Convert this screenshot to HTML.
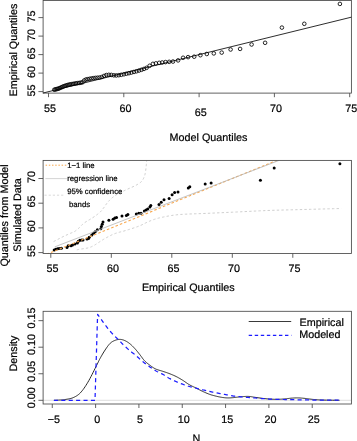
<!DOCTYPE html>
<html><head><meta charset="utf-8"><title>QQ plots</title>
<style>
html,body{margin:0;padding:0;background:#fff;}
body{width:357px;height:441px;overflow:hidden;}
svg{display:block;font-family:"Liberation Sans",sans-serif;}
text{text-rendering:geometricPrecision;}
g.t{opacity:0.999;}
</style></head><body>
<svg width="357" height="441" viewBox="0 0 357 441">
<rect width="357" height="441" fill="#fff"/>
<rect x="43.1" y="0.5" width="308.30" height="92.60" fill="none" stroke="#484848" stroke-width="0.85"/>
<line x1="38.40" y1="91.60" x2="43.10" y2="91.60" stroke="#484848" stroke-width="0.85" />
<line x1="38.40" y1="73.10" x2="43.10" y2="73.10" stroke="#484848" stroke-width="0.85" />
<line x1="38.40" y1="54.60" x2="43.10" y2="54.60" stroke="#484848" stroke-width="0.85" />
<line x1="38.40" y1="36.10" x2="43.10" y2="36.10" stroke="#484848" stroke-width="0.85" />
<line x1="38.40" y1="17.60" x2="43.10" y2="17.60" stroke="#484848" stroke-width="0.85" />
<line x1="48.50" y1="93.10" x2="48.50" y2="97.20" stroke="#484848" stroke-width="0.85" />
<line x1="123.80" y1="93.10" x2="123.80" y2="97.20" stroke="#484848" stroke-width="0.85" />
<line x1="199.10" y1="93.10" x2="199.10" y2="97.20" stroke="#484848" stroke-width="0.85" />
<line x1="274.40" y1="93.10" x2="274.40" y2="97.20" stroke="#484848" stroke-width="0.85" />
<line x1="349.70" y1="93.10" x2="349.70" y2="97.20" stroke="#484848" stroke-width="0.85" />
<line x1="43.10" y1="93.00" x2="351.40" y2="17.16" stroke="#222" stroke-width="0.95" />
<circle cx="339.90" cy="3.90" r="1.8" fill="none" stroke="#000" stroke-width="0.85"/>
<circle cx="304.30" cy="23.80" r="1.8" fill="none" stroke="#000" stroke-width="0.85"/>
<circle cx="281.90" cy="27.60" r="1.8" fill="none" stroke="#000" stroke-width="0.85"/>
<circle cx="265.10" cy="42.80" r="1.8" fill="none" stroke="#000" stroke-width="0.85"/>
<circle cx="251.60" cy="44.50" r="1.8" fill="none" stroke="#000" stroke-width="0.85"/>
<circle cx="240.10" cy="48.90" r="1.8" fill="none" stroke="#000" stroke-width="0.85"/>
<circle cx="230.60" cy="49.50" r="1.8" fill="none" stroke="#000" stroke-width="0.85"/>
<circle cx="221.70" cy="52.60" r="1.8" fill="none" stroke="#000" stroke-width="0.85"/>
<circle cx="213.80" cy="53.40" r="1.8" fill="none" stroke="#000" stroke-width="0.85"/>
<circle cx="206.80" cy="54.00" r="1.8" fill="none" stroke="#000" stroke-width="0.85"/>
<circle cx="200.40" cy="55.20" r="1.8" fill="none" stroke="#000" stroke-width="0.85"/>
<circle cx="194.20" cy="56.70" r="1.8" fill="none" stroke="#000" stroke-width="0.85"/>
<circle cx="188.10" cy="57.13" r="1.8" fill="none" stroke="#000" stroke-width="0.85"/>
<circle cx="183.10" cy="57.76" r="1.8" fill="none" stroke="#000" stroke-width="0.85"/>
<circle cx="178.10" cy="60.39" r="1.8" fill="none" stroke="#000" stroke-width="0.85"/>
<circle cx="173.00" cy="61.55" r="1.8" fill="none" stroke="#000" stroke-width="0.85"/>
<circle cx="169.20" cy="61.82" r="1.8" fill="none" stroke="#000" stroke-width="0.85"/>
<circle cx="165.50" cy="62.09" r="1.8" fill="none" stroke="#000" stroke-width="0.85"/>
<circle cx="162.20" cy="62.48" r="1.8" fill="none" stroke="#000" stroke-width="0.85"/>
<circle cx="159.20" cy="62.84" r="1.8" fill="none" stroke="#000" stroke-width="0.85"/>
<circle cx="155.90" cy="63.35" r="1.8" fill="none" stroke="#000" stroke-width="0.85"/>
<circle cx="152.90" cy="63.84" r="1.8" fill="none" stroke="#000" stroke-width="0.85"/>
<circle cx="149.60" cy="65.79" r="1.8" fill="none" stroke="#000" stroke-width="0.85"/>
<circle cx="146.60" cy="67.82" r="1.8" fill="none" stroke="#000" stroke-width="0.85"/>
<circle cx="144.00" cy="68.92" r="1.8" fill="none" stroke="#000" stroke-width="0.85"/>
<circle cx="141.50" cy="69.78" r="1.8" fill="none" stroke="#000" stroke-width="0.85"/>
<circle cx="139.00" cy="70.56" r="1.8" fill="none" stroke="#000" stroke-width="0.85"/>
<circle cx="136.50" cy="71.28" r="1.8" fill="none" stroke="#000" stroke-width="0.85"/>
<circle cx="134.00" cy="71.94" r="1.8" fill="none" stroke="#000" stroke-width="0.85"/>
<circle cx="131.40" cy="72.58" r="1.8" fill="none" stroke="#000" stroke-width="0.85"/>
<circle cx="128.90" cy="73.17" r="1.8" fill="none" stroke="#000" stroke-width="0.85"/>
<circle cx="126.40" cy="73.73" r="1.8" fill="none" stroke="#000" stroke-width="0.85"/>
<circle cx="123.90" cy="74.27" r="1.8" fill="none" stroke="#000" stroke-width="0.85"/>
<circle cx="121.30" cy="74.81" r="1.8" fill="none" stroke="#000" stroke-width="0.85"/>
<circle cx="118.80" cy="75.18" r="1.8" fill="none" stroke="#000" stroke-width="0.85"/>
<circle cx="116.30" cy="75.45" r="1.8" fill="none" stroke="#000" stroke-width="0.85"/>
<circle cx="113.80" cy="75.33" r="1.8" fill="none" stroke="#000" stroke-width="0.85"/>
<circle cx="111.30" cy="74.92" r="1.8" fill="none" stroke="#000" stroke-width="0.85"/>
<circle cx="108.80" cy="74.83" r="1.8" fill="none" stroke="#000" stroke-width="0.85"/>
<circle cx="106.38" cy="75.04" r="1.8" fill="none" stroke="#000" stroke-width="0.85"/>
<circle cx="104.04" cy="75.91" r="1.8" fill="none" stroke="#000" stroke-width="0.85"/>
<circle cx="101.78" cy="77.01" r="1.8" fill="none" stroke="#000" stroke-width="0.85"/>
<circle cx="99.58" cy="77.54" r="1.8" fill="none" stroke="#000" stroke-width="0.85"/>
<circle cx="97.46" cy="77.72" r="1.8" fill="none" stroke="#000" stroke-width="0.85"/>
<circle cx="95.39" cy="77.90" r="1.8" fill="none" stroke="#000" stroke-width="0.85"/>
<circle cx="93.38" cy="78.18" r="1.8" fill="none" stroke="#000" stroke-width="0.85"/>
<circle cx="91.43" cy="78.48" r="1.8" fill="none" stroke="#000" stroke-width="0.85"/>
<circle cx="89.54" cy="78.82" r="1.8" fill="none" stroke="#000" stroke-width="0.85"/>
<circle cx="87.69" cy="79.18" r="1.8" fill="none" stroke="#000" stroke-width="0.85"/>
<circle cx="85.89" cy="79.53" r="1.8" fill="none" stroke="#000" stroke-width="0.85"/>
<circle cx="84.14" cy="80.51" r="1.8" fill="none" stroke="#000" stroke-width="0.85"/>
<circle cx="82.44" cy="82.31" r="1.8" fill="none" stroke="#000" stroke-width="0.85"/>
<circle cx="80.78" cy="82.69" r="1.8" fill="none" stroke="#000" stroke-width="0.85"/>
<circle cx="79.15" cy="82.93" r="1.8" fill="none" stroke="#000" stroke-width="0.85"/>
<circle cx="77.57" cy="83.16" r="1.8" fill="none" stroke="#000" stroke-width="0.85"/>
<circle cx="76.03" cy="83.39" r="1.8" fill="none" stroke="#000" stroke-width="0.85"/>
<circle cx="74.51" cy="83.65" r="1.8" fill="none" stroke="#000" stroke-width="0.85"/>
<circle cx="73.04" cy="83.91" r="1.8" fill="none" stroke="#000" stroke-width="0.85"/>
<circle cx="71.60" cy="84.17" r="1.8" fill="none" stroke="#000" stroke-width="0.85"/>
<circle cx="70.19" cy="84.43" r="1.8" fill="none" stroke="#000" stroke-width="0.85"/>
<circle cx="68.80" cy="84.68" r="1.8" fill="none" stroke="#000" stroke-width="0.85"/>
<circle cx="67.45" cy="85.10" r="1.8" fill="none" stroke="#000" stroke-width="0.85"/>
<circle cx="66.13" cy="85.50" r="1.8" fill="none" stroke="#000" stroke-width="0.85"/>
<circle cx="64.83" cy="85.89" r="1.8" fill="none" stroke="#000" stroke-width="0.85"/>
<circle cx="63.57" cy="86.32" r="1.8" fill="none" stroke="#000" stroke-width="0.85"/>
<circle cx="62.32" cy="86.90" r="1.8" fill="none" stroke="#000" stroke-width="0.85"/>
<circle cx="61.10" cy="87.47" r="1.8" fill="none" stroke="#000" stroke-width="0.85"/>
<circle cx="59.91" cy="88.02" r="1.8" fill="none" stroke="#000" stroke-width="0.85"/>
<circle cx="58.73" cy="88.56" r="1.8" fill="none" stroke="#000" stroke-width="0.85"/>
<circle cx="57.58" cy="88.86" r="1.8" fill="none" stroke="#000" stroke-width="0.85"/>
<circle cx="56.45" cy="89.16" r="1.8" fill="none" stroke="#000" stroke-width="0.85"/>
<circle cx="55.34" cy="89.45" r="1.8" fill="none" stroke="#000" stroke-width="0.85"/>
<circle cx="54.25" cy="89.74" r="1.8" fill="none" stroke="#000" stroke-width="0.85"/>
<clipPath id="c2"><rect x="43.1" y="160.4" width="308.30" height="93.10"/></clipPath>
<g clip-path="url(#c2)">
<circle cx="54.20" cy="249.90" r="1.5" fill="#000"/>
<circle cx="55.80" cy="249.30" r="1.5" fill="#000"/>
<circle cx="57.50" cy="248.80" r="1.5" fill="#000"/>
<circle cx="59.20" cy="248.50" r="1.5" fill="#000"/>
<circle cx="61.40" cy="248.30" r="1.5" fill="#000"/>
<circle cx="67.00" cy="247.40" r="1.5" fill="#000"/>
<circle cx="68.20" cy="245.70" r="1.5" fill="#000"/>
<circle cx="71.00" cy="245.70" r="1.5" fill="#000"/>
<circle cx="72.50" cy="245.00" r="1.5" fill="#000"/>
<circle cx="74.90" cy="244.00" r="1.5" fill="#000"/>
<circle cx="77.40" cy="242.90" r="1.5" fill="#000"/>
<circle cx="78.30" cy="241.20" r="1.5" fill="#000"/>
<circle cx="79.90" cy="240.30" r="1.5" fill="#000"/>
<circle cx="81.60" cy="240.10" r="1.5" fill="#000"/>
<circle cx="83.00" cy="239.90" r="1.5" fill="#000"/>
<circle cx="87.00" cy="238.90" r="1.5" fill="#000"/>
<circle cx="88.50" cy="238.60" r="1.5" fill="#000"/>
<circle cx="89.20" cy="237.20" r="1.5" fill="#000"/>
<circle cx="91.80" cy="234.90" r="1.5" fill="#000"/>
<circle cx="93.50" cy="233.20" r="1.5" fill="#000"/>
<circle cx="95.20" cy="231.80" r="1.5" fill="#000"/>
<circle cx="97.40" cy="229.80" r="1.5" fill="#000"/>
<circle cx="100.80" cy="228.70" r="1.5" fill="#000"/>
<circle cx="101.40" cy="226.50" r="1.5" fill="#000"/>
<circle cx="102.20" cy="224.20" r="1.5" fill="#000"/>
<circle cx="103.00" cy="222.00" r="1.5" fill="#000"/>
<circle cx="108.90" cy="220.30" r="1.5" fill="#000"/>
<circle cx="113.10" cy="219.20" r="1.5" fill="#000"/>
<circle cx="114.80" cy="218.10" r="1.5" fill="#000"/>
<circle cx="116.50" cy="217.50" r="1.5" fill="#000"/>
<circle cx="122.00" cy="216.10" r="1.5" fill="#000"/>
<circle cx="126.40" cy="215.60" r="1.5" fill="#000"/>
<circle cx="127.90" cy="214.50" r="1.5" fill="#000"/>
<circle cx="136.30" cy="214.10" r="1.5" fill="#000"/>
<circle cx="138.80" cy="213.30" r="1.5" fill="#000"/>
<circle cx="141.00" cy="213.30" r="1.5" fill="#000"/>
<circle cx="144.40" cy="211.10" r="1.5" fill="#000"/>
<circle cx="146.10" cy="209.90" r="1.5" fill="#000"/>
<circle cx="147.70" cy="208.90" r="1.5" fill="#000"/>
<circle cx="149.90" cy="206.90" r="1.5" fill="#000"/>
<circle cx="150.80" cy="205.50" r="1.5" fill="#000"/>
<circle cx="159.00" cy="204.40" r="1.5" fill="#000"/>
<circle cx="161.20" cy="202.20" r="1.5" fill="#000"/>
<circle cx="164.00" cy="199.80" r="1.5" fill="#000"/>
<circle cx="169.10" cy="198.50" r="1.5" fill="#000"/>
<circle cx="172.10" cy="194.80" r="1.5" fill="#000"/>
<circle cx="174.60" cy="192.60" r="1.5" fill="#000"/>
<circle cx="178.00" cy="192.10" r="1.5" fill="#000"/>
<circle cx="188.30" cy="187.90" r="1.5" fill="#000"/>
<circle cx="189.80" cy="186.70" r="1.5" fill="#000"/>
<circle cx="205.20" cy="183.90" r="1.5" fill="#000"/>
<circle cx="211.10" cy="183.00" r="1.5" fill="#000"/>
<circle cx="260.40" cy="180.20" r="1.5" fill="#000"/>
<circle cx="274.20" cy="167.90" r="1.5" fill="#000"/>
<circle cx="339.90" cy="163.80" r="1.5" fill="#000"/>
<path d="M53.60,241.60 L54.36,241.20 L55.39,240.66 L56.62,240.01 L57.98,239.29 L59.38,238.56 L60.77,237.83 L62.07,237.17 L63.20,236.60 L64.20,236.12 L65.14,235.67 L66.04,235.26 L66.89,234.88 L67.71,234.51 L68.50,234.17 L69.26,233.83 L70.00,233.50 L70.71,233.19 L71.37,232.92 L71.99,232.68 L72.59,232.44 L73.17,232.20 L73.74,231.94 L74.31,231.65 L74.90,231.30 L75.49,230.91 L76.07,230.48 L76.65,230.02 L77.23,229.54 L77.80,229.04 L78.36,228.53 L78.93,228.01 L79.50,227.50 L80.04,226.99 L80.53,226.47 L81.00,225.95 L81.47,225.41 L81.99,224.86 L82.56,224.30 L83.22,223.71 L84.00,223.10 L84.93,222.45 L85.99,221.77 L87.15,221.06 L88.36,220.34 L89.60,219.61 L90.81,218.89 L91.95,218.18 L93.00,217.50 L93.97,216.84 L94.90,216.20 L95.80,215.56 L96.67,214.93 L97.49,214.31 L98.28,213.70 L99.01,213.10 L99.70,212.50 L100.32,211.93 L100.85,211.39 L101.33,210.86 L101.77,210.34 L102.19,209.81 L102.63,209.25 L103.09,208.65 L103.60,208.00 L104.14,207.28 L104.69,206.50 L105.25,205.69 L105.82,204.84 L106.41,203.99 L107.04,203.14 L107.70,202.30 L108.40,201.50 L109.13,200.72 L109.88,199.95 L110.66,199.18 L111.47,198.42 L112.32,197.68 L113.22,196.94 L114.18,196.21 L115.20,195.50 L116.31,194.80 L117.50,194.11 L118.75,193.43 L120.05,192.76 L121.37,192.11 L122.70,191.46 L124.02,190.82 L125.30,190.20 L126.58,189.59 L127.90,188.99 L129.22,188.40 L130.54,187.82 L131.83,187.26 L133.07,186.70 L134.23,186.15 L135.30,185.60 L136.28,185.08 L137.19,184.59 L138.04,184.11 L138.83,183.64 L139.56,183.16 L140.25,182.65 L140.89,182.10 L141.50,181.50 L142.06,180.84 L142.56,180.15 L143.00,179.42 L143.41,178.66 L143.77,177.87 L144.10,177.06 L144.41,176.24 L144.70,175.40 L144.96,174.55 L145.17,173.68 L145.35,172.79 L145.50,171.88 L145.63,170.95 L145.75,169.99 L145.87,169.01 L146.00,168.00 L146.13,166.89 L146.25,165.65 L146.37,164.35 L146.48,163.04 L146.58,161.79 L146.67,160.65 L146.74,159.71 L146.80,159.00" fill="none" stroke="#c6c6c6" stroke-width="0.85" stroke-linejoin="round" stroke-dasharray="2.4 2.2"/>
<path d="M76.80,249.80 L77.01,249.76 L77.26,249.71 L77.55,249.65 L77.90,249.58 L78.31,249.50 L78.79,249.41 L79.35,249.31 L80.00,249.20 L80.79,249.08 L81.73,248.94 L82.78,248.79 L83.89,248.63 L85.01,248.46 L86.10,248.28 L87.11,248.10 L88.00,247.90 L88.77,247.70 L89.47,247.49 L90.12,247.27 L90.73,247.04 L91.30,246.80 L91.86,246.55 L92.42,246.28 L93.00,246.00 L93.58,245.70 L94.14,245.39 L94.69,245.06 L95.22,244.72 L95.76,244.37 L96.30,244.01 L96.84,243.66 L97.40,243.30 L97.97,242.94 L98.54,242.56 L99.12,242.18 L99.70,241.79 L100.28,241.41 L100.86,241.03 L101.43,240.66 L102.00,240.30 L102.54,239.96 L103.06,239.64 L103.56,239.33 L104.07,239.03 L104.59,238.72 L105.14,238.40 L105.74,238.06 L106.40,237.70 L107.13,237.30 L107.93,236.87 L108.78,236.42 L109.66,235.96 L110.55,235.51 L111.43,235.07 L112.29,234.66 L113.10,234.30 L113.88,233.98 L114.65,233.69 L115.41,233.42 L116.16,233.17 L116.89,232.94 L117.61,232.72 L118.31,232.51 L119.00,232.30 L119.64,232.11 L120.22,231.96 L120.77,231.83 L121.31,231.70 L121.87,231.57 L122.49,231.41 L123.19,231.23 L124.00,231.00 L124.95,230.72 L126.01,230.40 L127.16,230.05 L128.36,229.68 L129.58,229.30 L130.78,228.92 L131.93,228.55 L133.00,228.20 L133.99,227.87 L134.94,227.55 L135.85,227.24 L136.74,226.93 L137.61,226.62 L138.47,226.29 L139.33,225.96 L140.20,225.60 L141.07,225.22 L141.93,224.81 L142.79,224.39 L143.64,223.96 L144.48,223.52 L145.32,223.10 L146.16,222.69 L147.00,222.30 L147.82,221.93 L148.62,221.57 L149.41,221.23 L150.20,220.89 L151.00,220.56 L151.83,220.23 L152.69,219.91 L153.60,219.60 L154.53,219.29 L155.47,219.00 L156.42,218.71 L157.40,218.42 L158.43,218.14 L159.53,217.87 L160.72,217.58 L162.00,217.30 L163.41,217.00 L164.95,216.69 L166.57,216.38 L168.26,216.06 L169.98,215.76 L171.70,215.48 L173.38,215.22 L175.00,215.00 L176.52,214.82 L177.96,214.67 L179.35,214.55 L180.75,214.45 L182.19,214.36 L183.72,214.28 L185.37,214.19 L187.20,214.10 L189.14,214.01 L191.11,213.93 L193.17,213.85 L195.34,213.78 L197.65,213.70 L200.14,213.62 L202.85,213.52 L205.80,213.40 L209.07,213.26 L212.64,213.10 L216.46,212.93 L220.44,212.75 L224.51,212.56 L228.61,212.37 L232.67,212.18 L236.60,212.00 L240.44,211.81 L244.26,211.62 L248.07,211.42 L251.89,211.22 L255.72,211.02 L259.57,210.84 L263.46,210.66 L267.40,210.50 L271.33,210.36 L275.22,210.24 L279.12,210.13 L283.05,210.02 L287.07,209.93 L291.20,209.82 L295.50,209.72 L300.00,209.60 L305.02,209.46 L310.66,209.31 L316.63,209.15 L322.64,208.99 L328.39,208.84 L333.60,208.70 L337.96,208.59 L341.20,208.50" fill="none" stroke="#c6c6c6" stroke-width="0.85" stroke-linejoin="round" stroke-dasharray="2.4 2.2"/>
<line x1="42.33" y1="256.06" x2="280.70" y2="158.74" stroke="#f9a950" stroke-width="1.1" stroke-dasharray="2.6 2.05"/>
<line x1="54.70" y1="246.90" x2="279.10" y2="160.40" stroke="#b6b6b6" stroke-width="0.8" />
</g>
<rect x="43.1" y="160.4" width="308.30" height="93.10" fill="none" stroke="#484848" stroke-width="0.85"/>
<line x1="38.40" y1="252.60" x2="43.10" y2="252.60" stroke="#484848" stroke-width="0.85" />
<line x1="38.40" y1="227.90" x2="43.10" y2="227.90" stroke="#484848" stroke-width="0.85" />
<line x1="38.40" y1="203.20" x2="43.10" y2="203.20" stroke="#484848" stroke-width="0.85" />
<line x1="38.40" y1="178.50" x2="43.10" y2="178.50" stroke="#484848" stroke-width="0.85" />
<line x1="50.80" y1="253.50" x2="50.80" y2="257.80" stroke="#484848" stroke-width="0.85" />
<line x1="111.30" y1="253.50" x2="111.30" y2="257.80" stroke="#484848" stroke-width="0.85" />
<line x1="171.80" y1="253.50" x2="171.80" y2="257.80" stroke="#484848" stroke-width="0.85" />
<line x1="232.30" y1="253.50" x2="232.30" y2="257.80" stroke="#484848" stroke-width="0.85" />
<line x1="292.80" y1="253.50" x2="292.80" y2="257.80" stroke="#484848" stroke-width="0.85" />
<line x1="45.60" y1="165.20" x2="66.80" y2="165.20" stroke="#f9a84d" stroke-width="1.0" stroke-dasharray="1.5 1.7"/>
<line x1="45.40" y1="178.60" x2="66.80" y2="178.60" stroke="#c6c6c6" stroke-width="0.75" />
<line x1="44.50" y1="195.20" x2="64.20" y2="195.20" stroke="#cfcfcf" stroke-width="0.8" stroke-dasharray="2.2 1.95"/>
<clipPath id="c3"><rect x="43.1" y="311.3" width="308.30" height="92.70"/></clipPath>
<g clip-path="url(#c3)">
<line x1="43.10" y1="400.30" x2="351.40" y2="400.30" stroke="#cfcfcf" stroke-width="0.7" />
<path d="M53.90,400.30 L54.38,400.28 L55.02,400.25 L55.78,400.22 L56.62,400.18 L57.51,400.14 L58.40,400.10 L59.24,400.05 L60.00,400.00 L60.68,399.96 L61.31,399.92 L61.91,399.88 L62.51,399.84 L63.11,399.78 L63.75,399.71 L64.44,399.62 L65.20,399.50 L66.04,399.37 L66.93,399.23 L67.88,399.09 L68.86,398.93 L69.85,398.72 L70.85,398.48 L71.84,398.17 L72.80,397.80 L73.74,397.38 L74.68,396.94 L75.62,396.45 L76.55,395.91 L77.48,395.30 L78.42,394.61 L79.36,393.81 L80.30,392.90 L81.24,391.87 L82.18,390.74 L83.13,389.52 L84.07,388.21 L85.02,386.81 L85.97,385.34 L86.93,383.80 L87.90,382.20 L88.91,380.45 L89.96,378.52 L91.04,376.46 L92.11,374.36 L93.16,372.27 L94.16,370.27 L95.08,368.42 L95.90,366.80 L96.60,365.42 L97.20,364.21 L97.72,363.14 L98.19,362.16 L98.63,361.24 L99.08,360.34 L99.56,359.40 L100.10,358.40 L100.69,357.34 L101.29,356.26 L101.91,355.18 L102.54,354.09 L103.18,353.03 L103.82,351.98 L104.46,350.97 L105.10,350.00 L105.73,349.06 L106.37,348.12 L107.01,347.20 L107.65,346.31 L108.29,345.47 L108.93,344.68 L109.57,343.95 L110.20,343.30 L110.83,342.73 L111.45,342.24 L112.08,341.81 L112.70,341.44 L113.32,341.11 L113.95,340.82 L114.57,340.55 L115.20,340.30 L115.83,340.07 L116.47,339.87 L117.11,339.71 L117.75,339.57 L118.39,339.48 L119.03,339.41 L119.67,339.39 L120.30,339.40 L120.93,339.45 L121.56,339.54 L122.18,339.67 L122.81,339.84 L123.43,340.03 L124.05,340.26 L124.68,340.52 L125.30,340.80 L125.92,341.11 L126.55,341.45 L127.17,341.82 L127.79,342.22 L128.42,342.65 L129.04,343.10 L129.67,343.59 L130.30,344.10 L130.93,344.65 L131.57,345.23 L132.22,345.85 L132.86,346.49 L133.51,347.15 L134.14,347.83 L134.78,348.51 L135.40,349.20 L136.02,349.90 L136.63,350.63 L137.24,351.37 L137.85,352.12 L138.45,352.87 L139.04,353.63 L139.63,354.37 L140.20,355.10 L140.75,355.82 L141.28,356.54 L141.79,357.26 L142.30,357.98 L142.81,358.68 L143.35,359.37 L143.90,360.05 L144.50,360.70 L145.14,361.34 L145.81,361.96 L146.50,362.58 L147.22,363.18 L147.94,363.76 L148.67,364.32 L149.39,364.87 L150.10,365.40 L150.79,365.91 L151.47,366.41 L152.15,366.89 L152.83,367.36 L153.52,367.80 L154.22,368.22 L154.95,368.62 L155.70,369.00 L156.48,369.34 L157.30,369.65 L158.13,369.92 L158.98,370.18 L159.84,370.43 L160.70,370.68 L161.55,370.93 L162.40,371.20 L163.24,371.48 L164.07,371.75 L164.91,372.03 L165.74,372.31 L166.58,372.59 L167.42,372.88 L168.26,373.18 L169.10,373.50 L169.95,373.83 L170.80,374.16 L171.65,374.50 L172.50,374.86 L173.35,375.22 L174.20,375.60 L175.05,375.99 L175.90,376.40 L176.74,376.83 L177.58,377.27 L178.42,377.73 L179.26,378.20 L180.09,378.68 L180.93,379.18 L181.76,379.69 L182.60,380.20 L183.44,380.74 L184.28,381.30 L185.11,381.89 L185.95,382.48 L186.79,383.07 L187.62,383.64 L188.46,384.19 L189.30,384.70 L190.14,385.17 L190.98,385.61 L191.81,386.02 L192.65,386.42 L193.49,386.81 L194.33,387.20 L195.16,387.59 L196.00,388.00 L196.84,388.42 L197.67,388.85 L198.51,389.29 L199.34,389.73 L200.18,390.16 L201.02,390.58 L201.86,391.00 L202.70,391.40 L203.55,391.80 L204.42,392.19 L205.30,392.58 L206.17,392.96 L207.04,393.33 L207.89,393.68 L208.71,394.00 L209.50,394.30 L210.25,394.56 L210.96,394.80 L211.64,395.01 L212.31,395.20 L212.97,395.38 L213.63,395.55 L214.30,395.72 L215.00,395.90 L215.72,396.08 L216.45,396.26 L217.18,396.44 L217.92,396.61 L218.67,396.77 L219.42,396.92 L220.16,397.07 L220.90,397.20 L221.64,397.32 L222.38,397.44 L223.12,397.55 L223.86,397.64 L224.59,397.73 L225.33,397.80 L226.07,397.86 L226.80,397.90 L227.52,397.92 L228.21,397.93 L228.89,397.92 L229.58,397.90 L230.28,397.87 L231.00,397.82 L231.78,397.76 L232.60,397.70 L233.49,397.62 L234.43,397.51 L235.41,397.39 L236.42,397.26 L237.45,397.13 L238.48,397.01 L239.50,396.89 L240.50,396.80 L241.49,396.72 L242.50,396.64 L243.52,396.56 L244.53,396.49 L245.52,396.44 L246.49,396.40 L247.42,396.39 L248.30,396.40 L249.12,396.44 L249.86,396.51 L250.57,396.60 L251.25,396.71 L251.93,396.83 L252.64,396.95 L253.38,397.08 L254.20,397.20 L255.08,397.33 L256.01,397.46 L256.98,397.60 L257.97,397.75 L258.98,397.90 L260.00,398.04 L261.01,398.17 L262.00,398.30 L262.98,398.42 L263.97,398.54 L264.96,398.65 L265.95,398.76 L266.94,398.86 L267.93,398.95 L268.92,399.03 L269.90,399.10 L270.88,399.16 L271.87,399.21 L272.85,399.25 L273.84,399.28 L274.82,399.30 L275.79,399.31 L276.75,399.31 L277.70,399.30 L278.65,399.28 L279.59,399.25 L280.53,399.21 L281.46,399.16 L282.38,399.10 L283.28,399.04 L284.15,398.97 L285.00,398.90 L285.81,398.82 L286.58,398.74 L287.32,398.64 L288.05,398.54 L288.77,398.45 L289.50,398.35 L290.23,398.27 L291.00,398.20 L291.79,398.14 L292.59,398.08 L293.40,398.03 L294.22,397.98 L295.04,397.94 L295.86,397.92 L296.68,397.90 L297.50,397.90 L298.31,397.91 L299.11,397.94 L299.92,397.98 L300.72,398.02 L301.53,398.08 L302.34,398.15 L303.16,398.22 L304.00,398.30 L304.85,398.39 L305.72,398.50 L306.60,398.61 L307.49,398.74 L308.38,398.86 L309.26,398.98 L310.14,399.10 L311.00,399.20 L311.85,399.29 L312.68,399.38 L313.51,399.46 L314.33,399.54 L315.16,399.61 L315.99,399.68 L316.84,399.74 L317.70,399.80 L318.53,399.85 L319.31,399.90 L320.08,399.94 L320.86,399.98 L321.71,400.01 L322.65,400.04 L323.74,400.07 L325.00,400.10 L326.57,400.13 L328.46,400.16 L330.55,400.19 L332.71,400.22 L334.81,400.24 L336.73,400.27 L338.33,400.29 L339.50,400.30" fill="none" stroke="#2a2a2a" stroke-width="1.0" stroke-linejoin="round" />
<path d="M53.90,400.30 L95.00,400.30 L97.60,314.40 L97.85,314.74 L98.17,315.18 L98.56,315.70 L98.99,316.28 L99.45,316.91 L99.93,317.57 L100.42,318.24 L100.90,318.90 L101.38,319.57 L101.89,320.29 L102.41,321.03 L102.94,321.79 L103.49,322.56 L104.03,323.33 L104.57,324.08 L105.10,324.80 L105.62,325.50 L106.15,326.20 L106.67,326.89 L107.20,327.57 L107.72,328.25 L108.25,328.91 L108.77,329.56 L109.30,330.20 L109.82,330.82 L110.33,331.42 L110.84,332.00 L111.34,332.57 L111.86,333.15 L112.39,333.72 L112.93,334.30 L113.50,334.90 L114.10,335.51 L114.71,336.13 L115.35,336.75 L116.00,337.38 L116.66,338.00 L117.31,338.64 L117.96,339.27 L118.60,339.90 L119.22,340.53 L119.84,341.16 L120.44,341.79 L121.05,342.42 L121.66,343.06 L122.29,343.70 L122.93,344.35 L123.60,345.00 L124.29,345.67 L125.01,346.35 L125.75,347.03 L126.49,347.72 L127.25,348.41 L128.00,349.09 L128.76,349.76 L129.50,350.40 L130.23,351.01 L130.95,351.59 L131.67,352.16 L132.39,352.71 L133.12,353.27 L133.86,353.85 L134.62,354.46 L135.40,355.10 L136.21,355.79 L137.04,356.53 L137.88,357.29 L138.74,358.07 L139.61,358.85 L140.48,359.63 L141.34,360.38 L142.20,361.10 L143.05,361.79 L143.90,362.47 L144.75,363.14 L145.61,363.79 L146.46,364.44 L147.31,365.07 L148.15,365.69 L149.00,366.30 L149.84,366.90 L150.68,367.50 L151.52,368.09 L152.36,368.67 L153.19,369.23 L154.03,369.78 L154.86,370.30 L155.70,370.80 L156.54,371.26 L157.38,371.69 L158.21,372.09 L159.05,372.48 L159.89,372.86 L160.72,373.25 L161.56,373.66 L162.40,374.10 L163.24,374.58 L164.07,375.09 L164.91,375.61 L165.74,376.15 L166.58,376.69 L167.42,377.21 L168.26,377.72 L169.10,378.20 L169.95,378.65 L170.80,379.10 L171.65,379.52 L172.50,379.94 L173.35,380.34 L174.20,380.74 L175.05,381.12 L175.90,381.50 L176.74,381.87 L177.58,382.23 L178.42,382.57 L179.26,382.91 L180.09,383.24 L180.93,383.57 L181.76,383.89 L182.60,384.20 L183.44,384.51 L184.28,384.82 L185.11,385.12 L185.95,385.41 L186.79,385.70 L187.62,385.98 L188.46,386.24 L189.30,386.50 L190.14,386.74 L190.98,386.97 L191.81,387.19 L192.65,387.39 L193.49,387.60 L194.33,387.80 L195.16,388.00 L196.00,388.20 L196.84,388.40 L197.67,388.61 L198.51,388.81 L199.34,389.01 L200.18,389.20 L201.02,389.40 L201.86,389.60 L202.70,389.80 L203.53,390.00 L204.36,390.20 L205.17,390.39 L205.99,390.59 L206.83,390.79 L207.69,390.99 L208.57,391.19 L209.50,391.40 L210.47,391.62 L211.48,391.84 L212.51,392.07 L213.57,392.30 L214.64,392.53 L215.73,392.76 L216.82,392.98 L217.90,393.20 L219.00,393.41 L220.12,393.62 L221.25,393.82 L222.39,394.03 L223.52,394.22 L224.64,394.42 L225.74,394.61 L226.80,394.80 L227.81,394.99 L228.78,395.17 L229.72,395.36 L230.64,395.54 L231.58,395.71 L232.54,395.88 L233.54,396.05 L234.60,396.20 L235.73,396.35 L236.91,396.49 L238.13,396.62 L239.38,396.74 L240.64,396.86 L241.90,396.98 L243.16,397.09 L244.40,397.20 L245.62,397.30 L246.85,397.39 L248.08,397.48 L249.30,397.56 L250.53,397.64 L251.75,397.73 L252.98,397.81 L254.20,397.90 L255.42,398.00 L256.65,398.10 L257.88,398.20 L259.10,398.31 L260.32,398.41 L261.55,398.51 L262.77,398.61 L264.00,398.70 L265.23,398.79 L266.45,398.87 L267.68,398.96 L268.90,399.04 L270.12,399.11 L271.35,399.18 L272.57,399.25 L273.80,399.30 L275.00,399.34 L276.15,399.38 L277.29,399.40 L278.44,399.42 L279.62,399.44 L280.86,399.45 L282.18,399.47 L283.60,399.50 L285.10,399.53 L286.64,399.57 L288.24,399.61 L289.90,399.64 L291.65,399.68 L293.49,399.72 L295.43,399.76 L297.50,399.80 L299.71,399.84 L302.07,399.88 L304.55,399.92 L307.12,399.96 L309.75,400.00 L312.40,400.04 L315.06,400.07 L317.70,400.10 L320.48,400.12 L323.51,400.14 L326.65,400.16 L329.76,400.17 L332.72,400.18 L335.39,400.19 L337.62,400.19 L339.30,400.20" fill="none" stroke="#1c1cff" stroke-width="1.25" stroke-linejoin="round" stroke-dasharray="4.1 3.3"/>
</g>
<rect x="43.1" y="311.3" width="308.30" height="92.70" fill="none" stroke="#484848" stroke-width="0.85"/>
<line x1="38.40" y1="400.30" x2="43.10" y2="400.30" stroke="#484848" stroke-width="0.85" />
<line x1="38.40" y1="373.75" x2="43.10" y2="373.75" stroke="#484848" stroke-width="0.85" />
<line x1="38.40" y1="347.20" x2="43.10" y2="347.20" stroke="#484848" stroke-width="0.85" />
<line x1="38.40" y1="320.65" x2="43.10" y2="320.65" stroke="#484848" stroke-width="0.85" />
<line x1="52.27" y1="404.00" x2="52.27" y2="408.00" stroke="#484848" stroke-width="0.85" />
<line x1="95.60" y1="404.00" x2="95.60" y2="408.00" stroke="#484848" stroke-width="0.85" />
<line x1="138.92" y1="404.00" x2="138.92" y2="408.00" stroke="#484848" stroke-width="0.85" />
<line x1="182.25" y1="404.00" x2="182.25" y2="408.00" stroke="#484848" stroke-width="0.85" />
<line x1="225.57" y1="404.00" x2="225.57" y2="408.00" stroke="#484848" stroke-width="0.85" />
<line x1="268.90" y1="404.00" x2="268.90" y2="408.00" stroke="#484848" stroke-width="0.85" />
<line x1="312.22" y1="404.00" x2="312.22" y2="408.00" stroke="#484848" stroke-width="0.85" />
<line x1="248.70" y1="321.50" x2="291.20" y2="321.50" stroke="#3a3a3a" stroke-width="1.1" />
<line x1="248.70" y1="335.40" x2="291.40" y2="335.40" stroke="#1c1cff" stroke-width="1.2" stroke-dasharray="3.4 2.65"/>
<g class="t">
<text x="35.30" y="90.60" font-size="10.78" text-anchor="middle" fill="#000" transform="rotate(-90 35.30 90.60)" stroke="#000" stroke-width="0.22">55</text>
<text x="35.30" y="72.10" font-size="10.78" text-anchor="middle" fill="#000" transform="rotate(-90 35.30 72.10)" stroke="#000" stroke-width="0.22">60</text>
<text x="35.30" y="53.60" font-size="10.78" text-anchor="middle" fill="#000" transform="rotate(-90 35.30 53.60)" stroke="#000" stroke-width="0.22">65</text>
<text x="35.30" y="35.10" font-size="10.78" text-anchor="middle" fill="#000" transform="rotate(-90 35.30 35.10)" stroke="#000" stroke-width="0.22">70</text>
<text x="35.30" y="16.60" font-size="10.78" text-anchor="middle" fill="#000" transform="rotate(-90 35.30 16.60)" stroke="#000" stroke-width="0.22">75</text>
<text x="16.70" y="50.10" font-size="10.78" text-anchor="middle" fill="#000" transform="rotate(-90 16.70 50.10)" stroke="#000" stroke-width="0.22">Empirical Quantiles</text>
<text x="50.10" y="111.90" font-size="10.78" text-anchor="middle" fill="#000" stroke="#000" stroke-width="0.22">55</text>
<text x="125.40" y="111.90" font-size="10.78" text-anchor="middle" fill="#000" stroke="#000" stroke-width="0.22">60</text>
<text x="200.70" y="115.60" font-size="10.78" text-anchor="middle" fill="#000" stroke="#000" stroke-width="0.22">65</text>
<text x="276.00" y="111.90" font-size="10.78" text-anchor="middle" fill="#000" stroke="#000" stroke-width="0.22">70</text>
<text x="351.30" y="111.90" font-size="10.78" text-anchor="middle" fill="#000" stroke="#000" stroke-width="0.22">75</text>
<text x="208.50" y="141.30" font-size="10.78" text-anchor="middle" fill="#000" stroke="#000" stroke-width="0.22">Model Quantiles</text>
<text x="34.70" y="251.00" font-size="10.78" text-anchor="middle" fill="#000" transform="rotate(-90 34.70 251.00)" stroke="#000" stroke-width="0.22">55</text>
<text x="34.70" y="226.30" font-size="10.78" text-anchor="middle" fill="#000" transform="rotate(-90 34.70 226.30)" stroke="#000" stroke-width="0.22">60</text>
<text x="34.70" y="201.60" font-size="10.78" text-anchor="middle" fill="#000" transform="rotate(-90 34.70 201.60)" stroke="#000" stroke-width="0.22">65</text>
<text x="34.70" y="176.90" font-size="10.78" text-anchor="middle" fill="#000" transform="rotate(-90 34.70 176.90)" stroke="#000" stroke-width="0.22">70</text>
<text x="8.10" y="215.40" font-size="10.78" text-anchor="middle" fill="#000" transform="rotate(-90 8.10 215.40)" stroke="#000" stroke-width="0.22">Quantiles from Model</text>
<text x="21.20" y="215.00" font-size="10.78" text-anchor="middle" fill="#000" transform="rotate(-90 21.20 215.00)" stroke="#000" stroke-width="0.22">Simulated Data</text>
<text x="52.40" y="272.30" font-size="10.78" text-anchor="middle" fill="#000" stroke="#000" stroke-width="0.22">55</text>
<text x="112.90" y="272.30" font-size="10.78" text-anchor="middle" fill="#000" stroke="#000" stroke-width="0.22">60</text>
<text x="173.40" y="272.30" font-size="10.78" text-anchor="middle" fill="#000" stroke="#000" stroke-width="0.22">65</text>
<text x="233.90" y="272.30" font-size="10.78" text-anchor="middle" fill="#000" stroke="#000" stroke-width="0.22">70</text>
<text x="294.40" y="272.30" font-size="10.78" text-anchor="middle" fill="#000" stroke="#000" stroke-width="0.22">75</text>
<text x="188.30" y="290.90" font-size="10.78" text-anchor="middle" fill="#000" stroke="#000" stroke-width="0.22">Empirical Quantiles</text>
<text x="67.20" y="168.00" font-size="7.75" text-anchor="start" fill="#000" stroke="#000" stroke-width="0.22">1−1 line</text>
<text x="67.20" y="180.90" font-size="7.75" text-anchor="start" fill="#000" stroke="#000" stroke-width="0.22">regression line</text>
<text x="67.20" y="193.80" font-size="7.75" text-anchor="start" fill="#000" stroke="#000" stroke-width="0.22">95% confidence</text>
<text x="69.00" y="206.70" font-size="7.75" text-anchor="start" fill="#000" stroke="#000" stroke-width="0.22">bands</text>
<text x="34.70" y="397.70" font-size="10.78" text-anchor="middle" fill="#000" transform="rotate(-90 34.70 397.70)" stroke="#000" stroke-width="0.22">0.00</text>
<text x="34.70" y="371.15" font-size="10.78" text-anchor="middle" fill="#000" transform="rotate(-90 34.70 371.15)" stroke="#000" stroke-width="0.22">0.05</text>
<text x="34.70" y="344.60" font-size="10.78" text-anchor="middle" fill="#000" transform="rotate(-90 34.70 344.60)" stroke="#000" stroke-width="0.22">0.10</text>
<text x="34.70" y="318.05" font-size="10.78" text-anchor="middle" fill="#000" transform="rotate(-90 34.70 318.05)" stroke="#000" stroke-width="0.22">0.15</text>
<text x="17.30" y="353.50" font-size="10.78" text-anchor="middle" fill="#000" transform="rotate(-90 17.30 353.50)" stroke="#000" stroke-width="0.22">Density</text>
<text x="53.88" y="423.40" font-size="10.78" text-anchor="middle" fill="#000" stroke="#000" stroke-width="0.22">−5</text>
<text x="97.20" y="423.40" font-size="10.78" text-anchor="middle" fill="#000" stroke="#000" stroke-width="0.22">0</text>
<text x="139.92" y="423.40" font-size="10.78" text-anchor="middle" fill="#000" stroke="#000" stroke-width="0.22">5</text>
<text x="183.85" y="423.40" font-size="10.78" text-anchor="middle" fill="#000" stroke="#000" stroke-width="0.22">10</text>
<text x="227.17" y="423.40" font-size="10.78" text-anchor="middle" fill="#000" stroke="#000" stroke-width="0.22">15</text>
<text x="270.50" y="423.40" font-size="10.78" text-anchor="middle" fill="#000" stroke="#000" stroke-width="0.22">20</text>
<text x="313.82" y="423.40" font-size="10.78" text-anchor="middle" fill="#000" stroke="#000" stroke-width="0.22">25</text>
<text x="196.30" y="441.60" font-size="10.78" text-anchor="middle" fill="#000" stroke="#000" stroke-width="0.22">N</text>
<text x="299.60" y="325.60" font-size="10.78" text-anchor="start" fill="#000" stroke="#000" stroke-width="0.22">Empirical</text>
<text x="299.20" y="337.90" font-size="10.78" text-anchor="start" fill="#000" stroke="#000" stroke-width="0.22">Modeled</text>
</g>
</svg>
</body></html>
